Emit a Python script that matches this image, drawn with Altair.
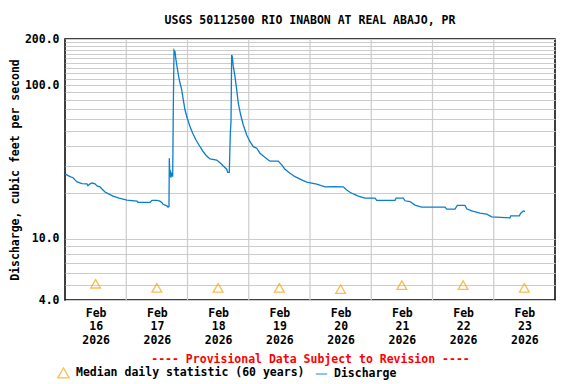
import altair as alt
import pandas as pd

# ---- data ----
# hours after 2026-02-16 00:00 UTC and discharge (ft3/s)
hours = [0.0, 0.39, 1.96, 3.13, 3.92, 4.70, 6.66, 8.62, 9.01, 9.80, 10.58, 11.76,
         12.54, 13.71, 14.50, 15.67, 16.85, 18.81, 21.16, 24.29, 28.21, 28.60,
         33.31, 34.09, 36.05, 37.22, 38.01, 38.40, 39.97, 40.36, 40.75, 40.87,
         41.1, 41.3, 41.5, 41.8, 42.2, 42.43, 42.71, 43.10, 43.49, 44.00, 44.79,
         45.73, 46.35, 47.02, 47.92, 48.98, 50.04, 51.33, 52.90, 54.19, 55.52,
         56.82, 59.44, 60.74, 62.03, 63.36, 63.76, 64.38, 64.77, 65.05, 65.3,
         65.55, 65.95, 66.61, 67.28, 67.91, 68.85, 69.87, 71.20, 72.49, 73.78,
         75.12, 76.41, 77.70, 79.66, 80.33, 83.58, 84.91, 86.20, 88.16, 90.12,
         92.75, 94.71, 98.63, 101.88, 105.80, 109.05, 110.39, 111.67, 112.97,
         114.93, 117.55, 121.47, 122.14, 129.31, 129.70, 132.56, 133.23, 135.18,
         137.14, 139.77, 148.90, 149.57, 152.82, 153.72, 156.74, 157.40, 159.36,
         162.61, 165.24, 167.20, 174.37, 174.64, 178.01, 178.56, 179.58, 180.25]
discharge = [26.4, 26.3, 25.4, 25.0, 24.2, 23.5, 22.9, 22.8, 22.2, 22.8, 23.1, 22.8,
             22.1, 21.8, 21.1, 20.2, 19.7, 19.0, 18.4, 17.9, 17.6, 17.3,
             17.3, 17.8, 17.8, 17.6, 17.2, 16.8, 16.4, 16.1, 16.2, 33.5,
             25.4, 28.0, 25.0, 27.0, 25.4, 69.0, 169.0, 165.0, 146.1, 129.0, 108.2,
             93.2, 80.2, 69.0, 61.0, 53.8, 48.7, 44.0, 39.8, 36.9, 34.6,
             33.1, 32.6, 31.3, 29.8, 28.4, 27.1, 27.1, 48.7, 57.9, 157.5,
             153.5, 132.1, 113.7, 93.2, 76.3, 64.0, 55.1, 47.5, 42.9, 39.8,
             38.9, 36.1, 34.6, 32.6, 32.1, 32.1, 30.3, 28.4, 26.7, 25.4,
             24.2, 23.4, 22.7, 21.8, 21.9, 21.8, 20.8, 20.1, 19.6,
             19.0, 18.4, 18.4, 17.8, 17.8, 18.4, 18.4, 17.7, 17.5,
             16.6, 16.1, 16.1, 15.6, 15.6, 16.5, 16.5, 15.7, 15.2,
             14.7, 14.5, 13.9, 13.7, 14.1, 14.1, 14.7, 15.2, 15.1]

median_days = [16, 17, 18, 19, 20, 21, 22, 23]
median_values = [5.1, 4.8, 4.8, 4.8, 4.7, 5.0, 5.0, 4.8]
grid_days = [17, 18, 19, 20, 21, 22, 23]

y_grid_values = [4, 5, 6, 7, 8, 9, 10, 20, 30, 40, 50, 60, 70, 80, 90, 100,
                 110, 120, 130, 140, 150, 160, 170, 180, 190, 200]
y_label_values = [4, 10, 100, 200]

SERIES_MED = "Median daily statistic (60 years)"
SERIES_Q = "Discharge"
TITLE = "USGS 50112500 RIO INABON AT REAL ABAJO, PR"
NOTE = "---- Provisional Data Subject to Revision ----"

FONT = "DejaVu Sans Mono"
ORANGE = "#f5a30a"
BLUE = "#0a7fcc"
GRID = "#cccccc"

start = pd.Timestamp("2026-02-16T00:00:00Z")
flow = pd.DataFrame({
    "time": [(start + pd.Timedelta(hours=h)).strftime("%Y-%m-%dT%H:%M:%SZ") for h in hours],
    "value": discharge,
    "series": SERIES_Q,
})
med = pd.DataFrame({
    "time": [f"2026-02-{d:02d}T12:00:00Z" for d in median_days],
    "value": median_values,
    "series": SERIES_MED,
})
vgrid = pd.DataFrame({"time": [f"2026-02-{d:02d}T00:00:00Z" for d in grid_days]})

x_scale = alt.Scale(type="utc",
                    domain=[alt.DateTime(year=2026, month=2, date=16, utc=True),
                            alt.DateTime(year=2026, month=2, date=24, utc=True)])
y_scale = alt.Scale(type="log", domain=[4, 200], nice=False)
color_scale = alt.Scale(domain=[SERIES_MED, SERIES_Q], range=[ORANGE, BLUE])
shape_scale = alt.Scale(domain=[SERIES_MED, SERIES_Q], range=["triangle-up", "stroke"])

legend = alt.Legend(orient="none", legendX=-8, legendY=327,
                    direction="horizontal", title=None, labelLimit=0)

x_axis = alt.Axis(
    values=[alt.DateTime(year=2026, month=2, date=d, hours=12, utc=True) for d in median_days],
    labelExpr="[utcFormat(datum.value, '%b'), utcFormat(datum.value, '%d'), utcFormat(datum.value, '%Y')]",
    grid=False, ticks=False, domain=False, labelPadding=7, labelLineHeight=13.5,
    labelFlush=False, labelOverlap=False,
    title=NOTE, titleColor="#ff0000", titlePadding=8,
)
y_axis = alt.Axis(
    values=y_grid_values,
    labelExpr="indexof(" + str(y_label_values) + ", datum.value) >= 0 ? format(datum.value, '.1f') : ''",
    grid=True, gridColor=GRID, gridWidth=1.2, ticks=False, domain=False,
    labelPadding=6, labelOverlap=False,
    title="Discharge, cubic feet per second", titlePadding=4,
)

grid_layer = alt.Chart(vgrid).mark_rule(color=GRID, strokeWidth=1.2).encode(
    x=alt.X("time:T", scale=x_scale, axis=x_axis)
)

line_layer = alt.Chart(flow).mark_line(strokeWidth=1.3).encode(
    x=alt.X("time:T", scale=x_scale, axis=x_axis),
    y=alt.Y("value:Q", scale=y_scale, axis=y_axis),
    color=alt.Color("series:N", scale=color_scale, legend=legend),
)

point_layer = alt.Chart(med).mark_point(filled=False, size=95, strokeWidth=1.3).encode(
    x=alt.X("time:T", scale=x_scale, axis=x_axis),
    y=alt.Y("value:Q", scale=y_scale, axis=y_axis),
    color=alt.Color("series:N", scale=color_scale, legend=legend),
    shape=alt.Shape("series:N", scale=shape_scale, legend=legend),
)

chart = alt.layer(grid_layer, line_layer, point_layer).properties(
    width=490, height=261,
    title=alt.TitleParams(TITLE, font=FONT, fontSize=11.5, fontWeight="bold",
                          anchor="middle", offset=7, color="black"),
    autosize=alt.AutoSizeParams(type="none"),
    padding={"left": 57, "top": 31, "right": 13, "bottom": 84},
).configure_view(
    stroke="black", strokeWidth=1.5
).configure_axis(
    labelFont=FONT, labelFontSize=11.5, labelFontWeight="bold", labelColor="black",
    titleFont=FONT, titleFontSize=11.5, titleFontWeight="bold", titleColor="black",
).configure_legend(
    labelFont=FONT, labelFontSize=11.5, labelFontWeight="bold", labelColor="black",
    symbolSize=130, symbolStrokeWidth=1.3, labelOffset=6, columnPadding=8,
).configure_title(font=FONT)

chart.save("out.html", embed_options={"renderer": "svg", "actions": False})
